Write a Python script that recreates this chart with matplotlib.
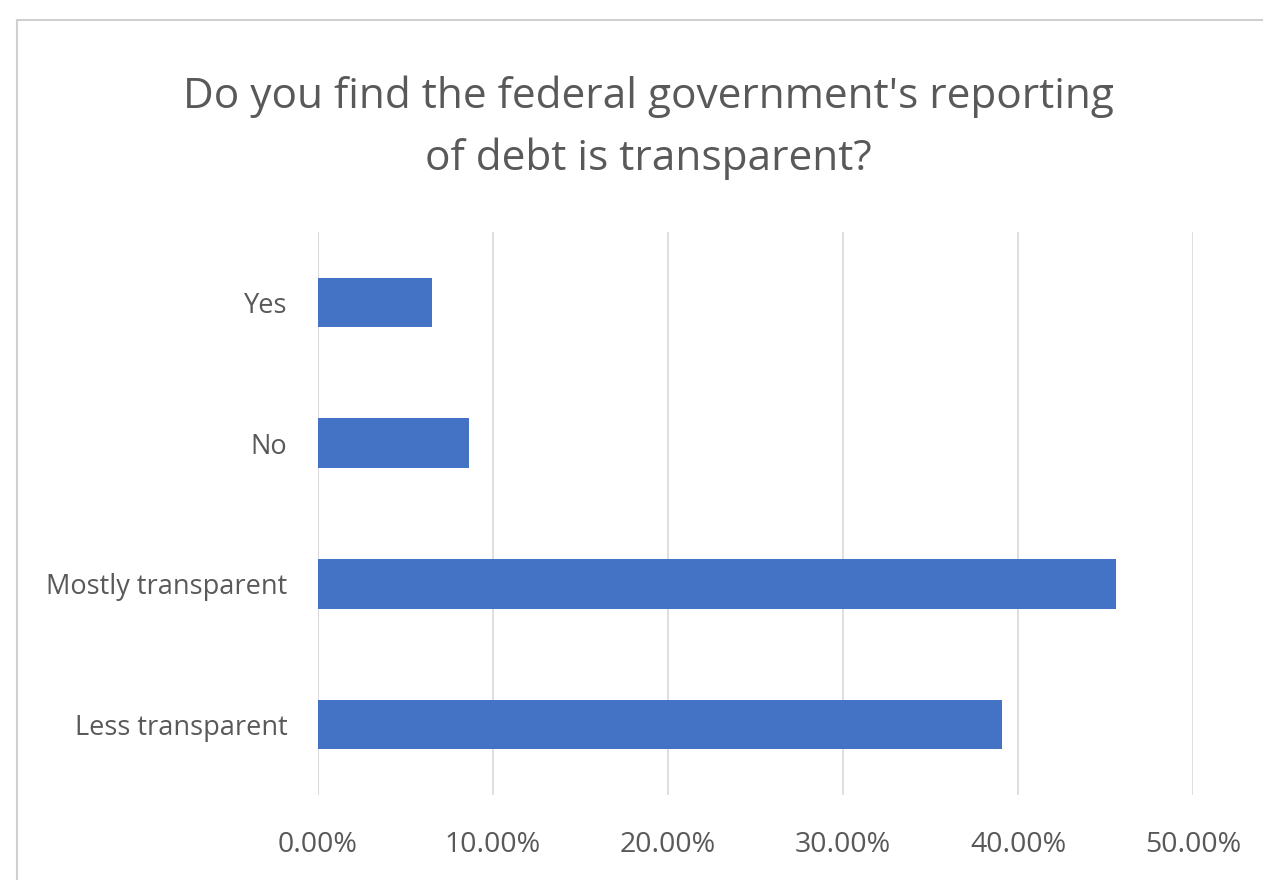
import matplotlib.pyplot as plt
from matplotlib.patches import Rectangle
from matplotlib.ticker import PercentFormatter

# respostas da pesquisa (fração do total)
categorias = ['Yes', 'No', 'Mostly transparent', 'Less transparent']
valores = [0.065, 0.086, 0.456, 0.391]
ticks_x = [0.0, 0.1, 0.2, 0.3, 0.4, 0.5]
titulo = "Do you find the federal government's reporting\nof debt is transparent?"

plt.rcParams['font.family'] = ['Open Sans', 'DejaVu Sans']
cor_texto = '#595959'

fig = plt.figure(figsize=(12.63, 8.80), dpi=100)

# moldura da área do gráfico
fig.patches.append(Rectangle((17 / 1263, -0.1), 1.2, 1 - 20 / 880 + 0.1,
                             transform=fig.transFigure, fill=False,
                             edgecolor='#d0d0d0', linewidth=1.5))

ax = fig.add_axes([318 / 1263, 1 - 795 / 880, (1193 - 318) / 1263, (795 - 232) / 880])

posicoes = range(len(categorias))
ax.barh(posicoes, valores, height=0.35, color='#4472C4', zorder=3)

ax.set_ylim(3.5, -0.5)
ax.set_xlim(0, 0.5)
ax.set_xticks(ticks_x)
ax.xaxis.set_major_formatter(PercentFormatter(1.0, decimals=2))
ax.set_yticks(list(posicoes))
ax.set_yticklabels(categorias)

ax.grid(axis='x', color='#d9d9d9', linewidth=1.2, zorder=0)
for lado in ['top', 'right', 'bottom', 'left']:
    ax.spines[lado].set_visible(False)
ax.axvline(0, color='#d9d9d9', linewidth=1.2, zorder=1)

ax.tick_params(axis='both', length=0, labelcolor=cor_texto)
ax.tick_params(axis='x', pad=26, labelsize=20.5)
ax.tick_params(axis='y', pad=22, labelsize=19.5)

fig.text(0.5135, 1 - 127.5 / 880, titulo, ha='center', va='center',
         fontsize=30.5, color=cor_texto, linespacing=1.6)

fig.savefig('out.png', dpi=100, facecolor='white')
